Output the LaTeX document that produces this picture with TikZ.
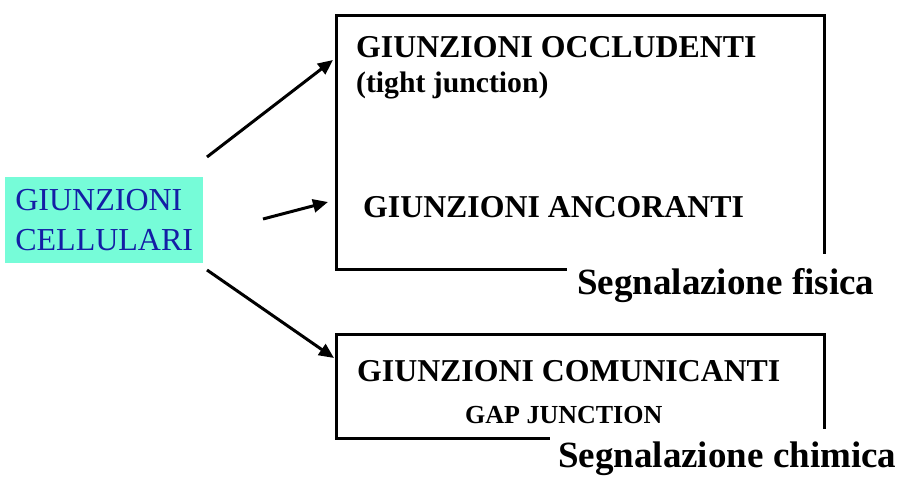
\documentclass[tikz,border=0pt]{standalone}
\usepackage{fontspec}
\setmainfont{Liberation Serif}
\usetikzlibrary{arrows.meta}
\definecolor{cellfill}{RGB}{118,252,216}
\definecolor{celltext}{RGB}{20,30,165}
\begin{document}
\begin{tikzpicture}[x=1pt,y=-1pt,
  frame/.style={draw=black,line width=3pt,anchor=north west,inner sep=0pt},
  head/.style={anchor=base west,inner sep=0pt,font=\fontsize{31.8}{36}\selectfont\bfseries},
  signal/.style={anchor=base west,fill=white,
    font=\fontsize{37}{40}\selectfont\bfseries},
  link/.style={line width=3pt,-{Triangle[length=15pt,width=13pt]}}]
  \useasboundingbox (0,0) rectangle (906,478);

  % source box
  \node[fill=cellfill,text=celltext,align=left,anchor=north west,
        minimum width=198pt,minimum height=86pt,inner sep=0pt,
        font=\fontsize{32}{38}\selectfont] (cell) at (5,177)
        {\raisebox{2pt}{GIUNZIONI}\\CELLULARI};

  % physical signalling frame
  \node[frame,minimum width=488pt,minimum height=254pt] (phys) at (335,14) {};
  \node[head] (occl) at (356,58) {GIUNZIONI OCCLUDENTI};
  \node[head,font=\fontsize{29.7}{34}\selectfont\bfseries] (tight) at (356,93) {(tight junction)};
  \node[head] (ancor) at (363,218) {GIUNZIONI ANCORANTI};
  \node[signal,inner xsep=10pt,inner ysep=15pt] (fis) at (567,295) {Segnalazione fisica};

  % chemical signalling frame
  \node[frame,minimum width=488pt,minimum height=104pt] (chem) at (335,333) {};
  \node[head] (comun) at (357,382) {GIUNZIONI COMUNICANTI};
  \node[head,font=\fontsize{26}{30}\selectfont\bfseries] (gap) at (465,424) {GAP JUNCTION};
  \node[signal,inner xsep=8pt,inner ysep=13pt] (chim) at (550,468) {Segnalazione chimica};

  % arrows from the source box
  \coordinate (s1) at (207,157);
  \coordinate (t1) at (333,60);
  \coordinate (s2) at (263,219);
  \coordinate (t2) at (328,202);
  \coordinate (s3) at (207,270);
  \coordinate (t3) at (334,358);
  \draw[link] (s1) -- (t1);
  \draw[link] (s2) -- (t2);
  \draw[link] (s3) -- (t3);
\end{tikzpicture}
\end{document}
